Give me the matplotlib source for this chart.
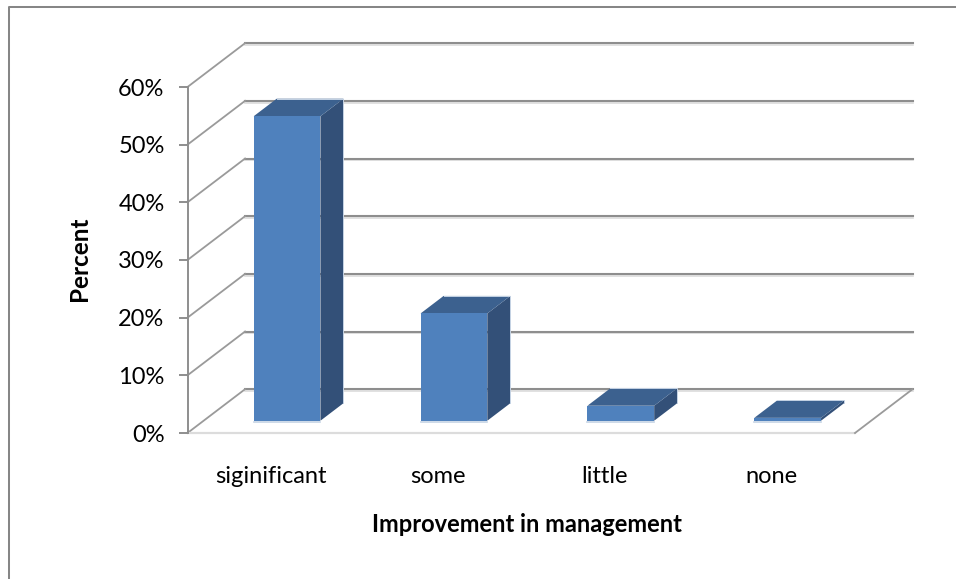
import matplotlib
matplotlib.use("Agg")
import matplotlib.pyplot as plt
from matplotlib.patches import Polygon, Rectangle

categories = ["siginificant", "some", "little", "none"]
values = [52.8, 18.6, 2.6, 0.5]
y_ticks = [0, 10, 20, 30, 40, 50, 60]
y_tick_labels = ["0%", "10%", "20%", "30%", "40%", "50%", "60%"]
x_label = "Improvement in management"
y_label = "Percent"

W, H = 956, 579
# depth of the fake 3d box, in data units
depth_x = 0.345
depth_y = 7.6
bar_width = 0.40
bar_front = 0.28
bar_back = 0.68

front_col = "#4f81bd"
top_col = "#3c618f"
side_col = "#335078"
grid_col = "#8e8e8e"
shadow_col = "#dcdcdc"

plt.rcParams["font.family"] = ["Lato", "DejaVu Sans"]

fig = plt.figure(figsize=(W / 100, H / 100), dpi=100)
fig.add_artist(plt.Line2D([9 / W, 9 / W, 1], [0, 1 - 7 / H, 1 - 7 / H],
                          transform=fig.transFigure, color="#868686", lw=1.45))

ax = fig.add_axes([187.5 / W, 1 - 433 / H, 667.5 / W, 346 / H])
ax.set_xlim(0, 4)
ax.set_ylim(0, 60)
ax.patch.set_visible(False)
for s in ax.spines.values():
	s.set_visible(False)
ax.spines["left"].set_visible(True)
ax.spines["left"].set_color(grid_col)
ax.spines["left"].set_linewidth(1.4)

# back wall + left wall gridlines
for t in y_ticks:
	ax.plot([depth_x, 4 + depth_x], [t + depth_y - 0.3, t + depth_y - 0.3], color=shadow_col, lw=1.2,
	        clip_on=False, zorder=1)
	ax.plot([depth_x, 4 + depth_x], [t + depth_y, t + depth_y], color=grid_col, lw=1.5,
	        clip_on=False, zorder=1)
	ax.plot([0, depth_x], [t, t + depth_y], color="#9a9a9a", lw=1.3, clip_on=False, zorder=1)
ax.plot([0, 4], [0, 0], color=shadow_col, lw=1.6, clip_on=False, zorder=1)
ax.plot([4, 4 + depth_x], [0, depth_y], color="#9a9a9a", lw=1.3, clip_on=False, zorder=1)

for i, v in enumerate(values):
	x0 = i + 0.5 - bar_width / 2 + bar_front * depth_x
	x1 = x0 + bar_width
	y0 = bar_front * depth_y
	dx = (bar_back - bar_front) * depth_x
	dy = (bar_back - bar_front) * depth_y
	ax.add_patch(Polygon([(x1, y0), (x1 + dx, y0 + dy), (x1 + dx, y0 + dy + v), (x1, y0 + v)],
	                     fc=side_col, ec="none", clip_on=False, zorder=3))
	ax.add_patch(Polygon([(x0, y0 + v), (x1, y0 + v), (x1 + dx, y0 + v + dy), (x0 + dx, y0 + v + dy)],
	                     fc=top_col, ec="none", clip_on=False, zorder=3))
	# pale rim on the back edges and under the front face
	ax.plot([x0 + dx, x1 + dx, x1 + dx], [y0 + v + dy, y0 + v + dy, y0 + dy], color="#c5d3e4", lw=0.7,
	        clip_on=False, zorder=3)
	ax.add_patch(Rectangle((x0, y0), bar_width, v, fc=front_col, ec="none",
	                       clip_on=False, zorder=4))
	ax.plot([x0, x1], [y0 - 0.15, y0 - 0.15], color="#c5d3e4", lw=1.2, clip_on=False, zorder=4)

ax.set_xticks([i + 0.5 for i in range(len(categories))])
ax.set_xticklabels(categories, fontsize=17)
ax.set_yticks(y_ticks)
ax.set_yticklabels(y_tick_labels, fontsize=17)
ax.tick_params(axis="x", length=0, pad=23.5)
ax.tick_params(axis="y", length=6.5, width=1.4, color=grid_col, pad=10)
ax.set_xlabel(x_label, fontsize=17, fontweight="bold")
ax.set_ylabel(y_label, fontsize=17.5, fontweight="bold")
ax.xaxis.set_label_coords(0.508, -0.230)
ax.yaxis.set_label_coords(-0.145, 0.505)

fig.savefig("out.png", dpi=100)
